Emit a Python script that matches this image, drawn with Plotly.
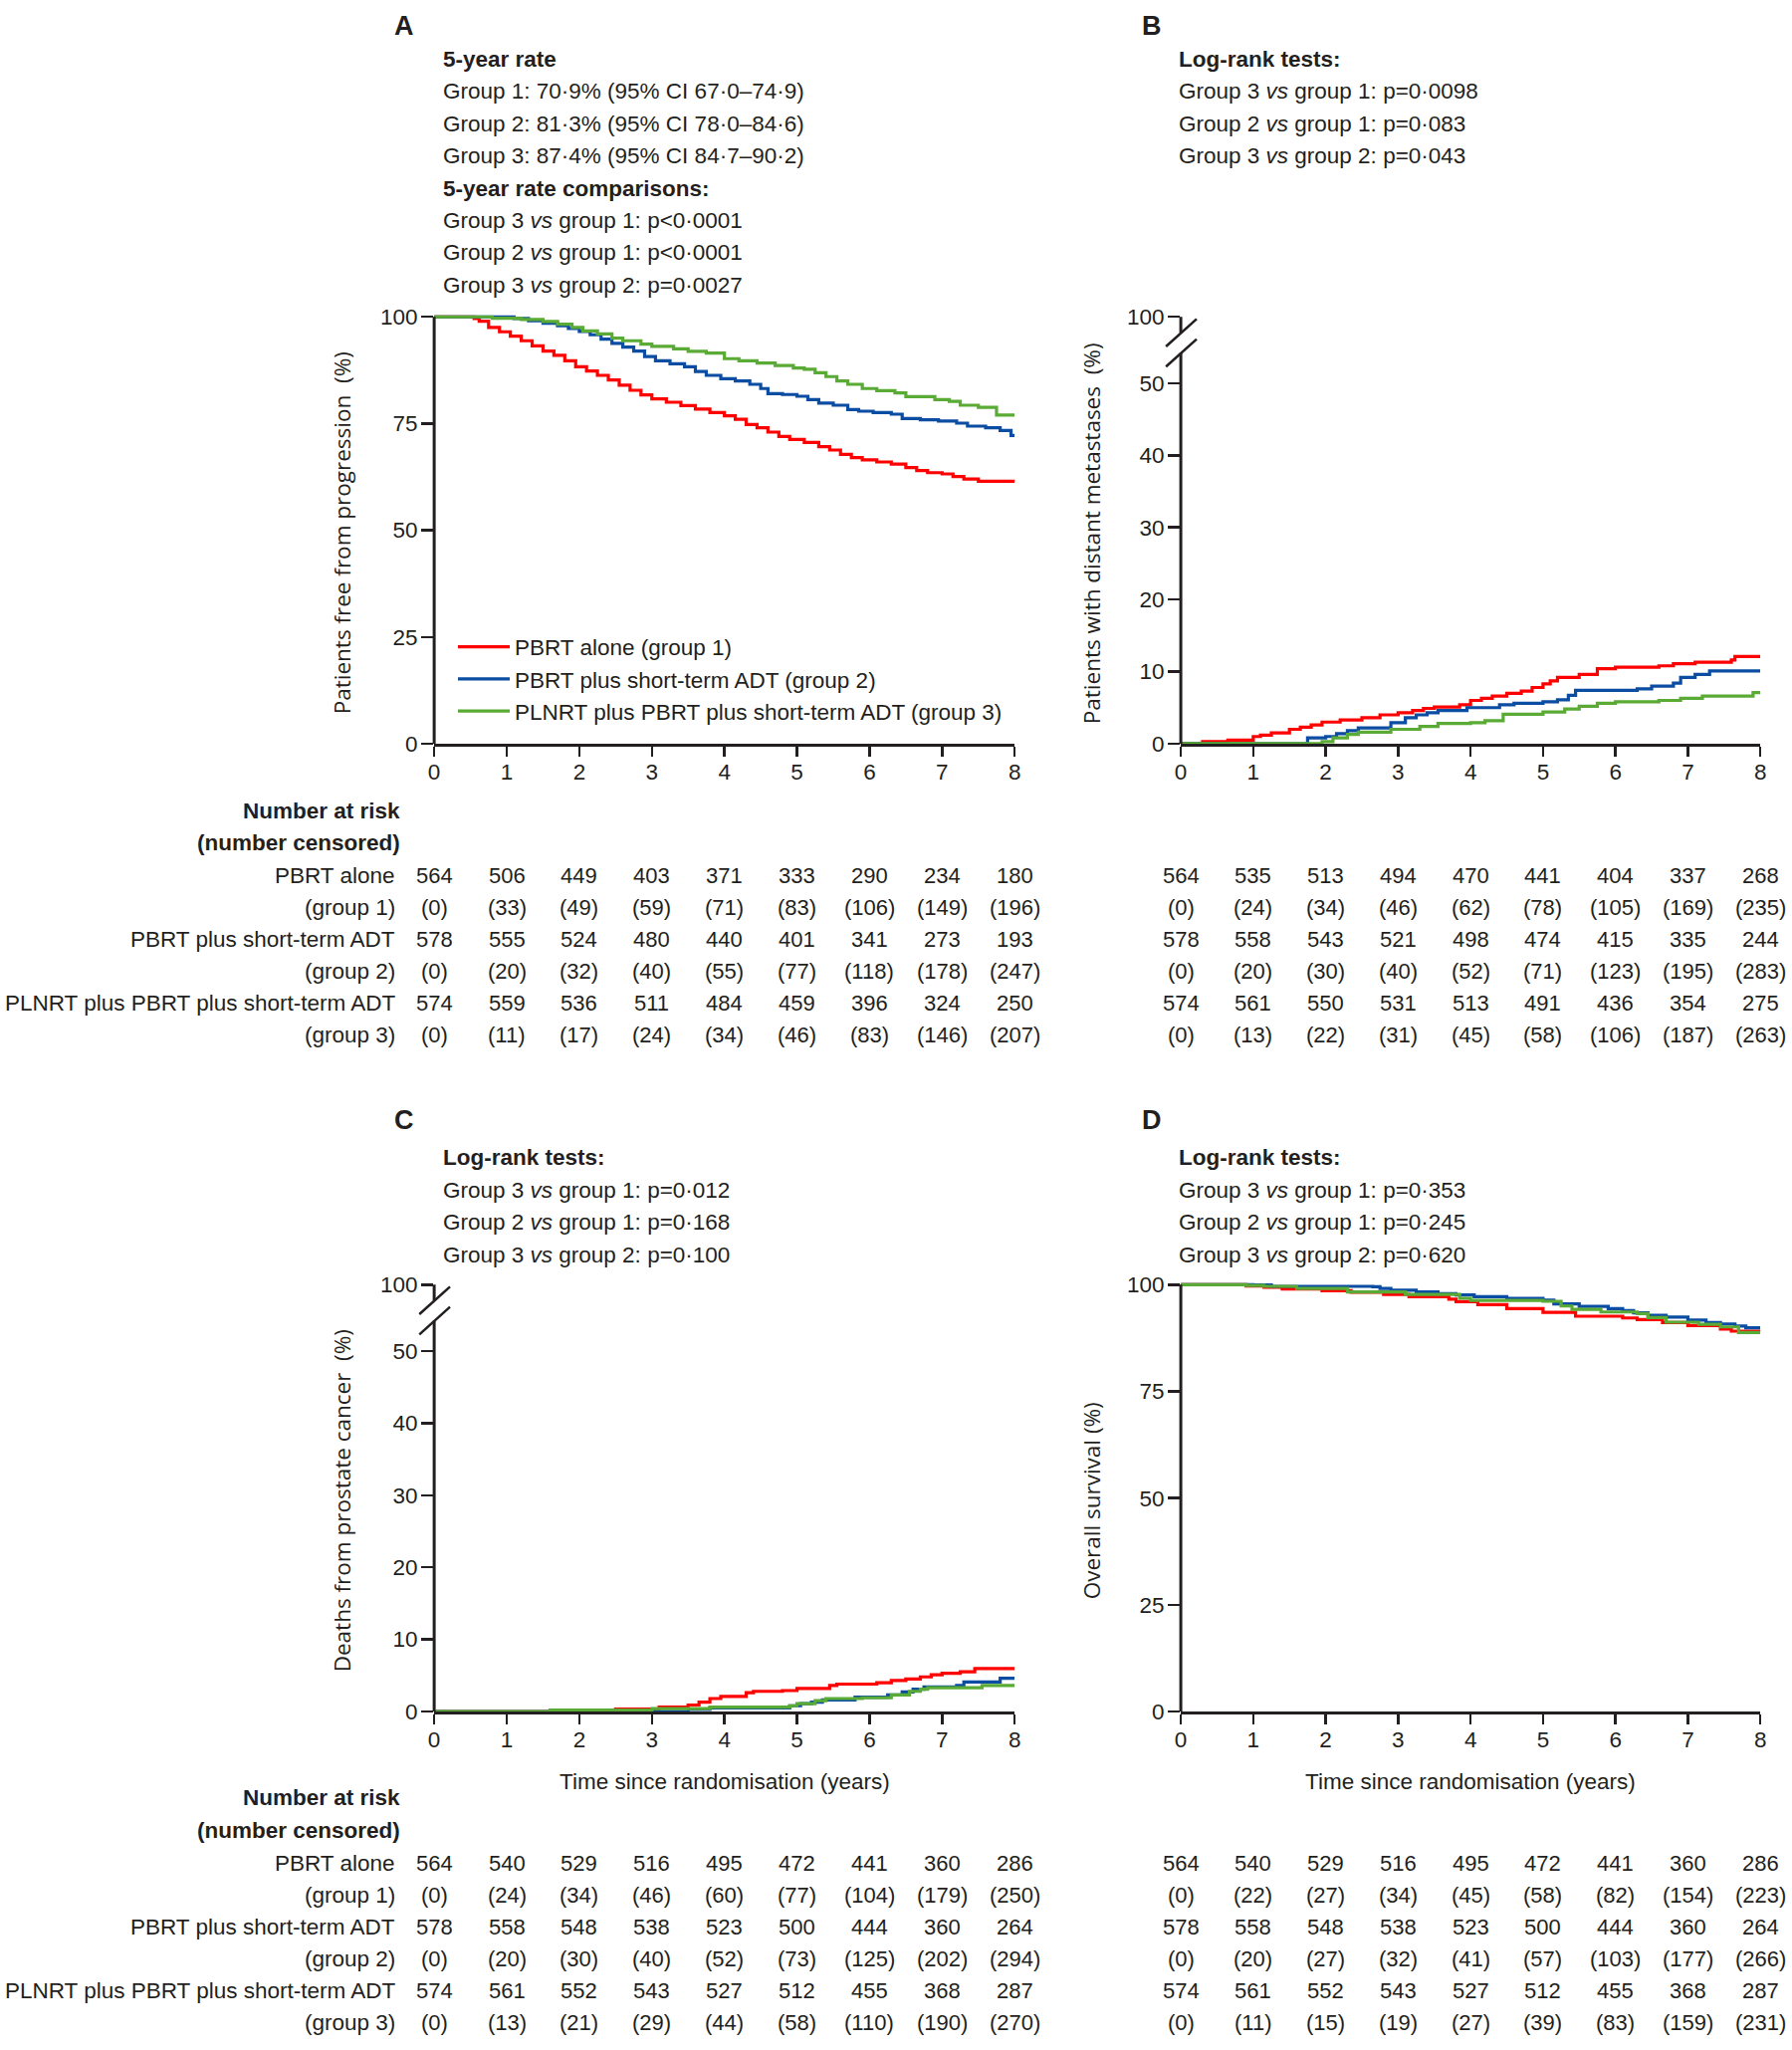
import plotly.graph_objects as go

W, H = 1800, 2059
FONT = "Liberation Sans, Arial, sans-serif"
TFONT = "Open Sans, Liberation Sans, sans-serif"
FS = 22.5
FS_NUM = 22
INK = "#231f20"
COLORS = ["#ff0000", "#0b4da2", "#5aab35"]

YEARS = [0, 1, 2, 3, 4, 5, 6, 7, 8]
LEGEND_NAMES = ["PBRT alone (group 1)", "PBRT plus short-term ADT (group 2)",
                "PLNRT plus PBRT plus short-term ADT (group 3)"]
ROW_LABELS = ["PBRT alone", "(group 1)", "PBRT plus short-term ADT", "(group 2)",
              "PLNRT plus PBRT plus short-term ADT", "(group 3)"]

# ---------------- Panel A: freedom from progression (%) ----------------
A_T1 = [0, 0.55, 0.62, 0.75, 0.9, 1.05, 1.2, 1.35, 1.5, 1.65, 1.8, 1.95, 2.1, 2.25, 2.4, 2.55, 2.7, 2.85, 3.0,
        3.2, 3.4, 3.6, 3.8, 4.0, 4.15, 4.3, 4.45, 4.6, 4.75, 4.9, 5.1, 5.3, 5.45, 5.6, 5.75, 5.9, 6.1, 6.3,
        6.5, 6.65, 6.8, 7.0, 7.15, 7.3, 7.5, 8.0]
A_S1 = [100, 99.6, 99.0, 97.5, 96.5, 95.5, 94.4, 93.2, 92.0, 91.0, 89.7, 88.3, 87.3, 86.3, 85.2, 84.0, 82.8,
        81.7, 80.8, 80.0, 79.2, 78.4, 77.6, 76.8, 76.0, 74.8, 74.0, 73.0, 72.0, 71.3, 70.6, 69.6, 68.8, 67.8,
        67.0, 66.5, 66.0, 65.5, 64.7, 64.0, 63.5, 63.2, 62.6, 62.0, 61.5, 61.3]
A_T2 = [0, 1.1, 1.3, 1.5, 1.7, 1.85, 2.0, 2.15, 2.3, 2.45, 2.6, 2.75, 2.9, 3.05, 3.25, 3.45, 3.6, 3.75, 3.95,
        4.15, 4.35, 4.5, 4.6, 4.8, 5.0, 5.15, 5.3, 5.5, 5.7, 5.85, 6.05, 6.3, 6.45, 6.7, 6.95, 7.2, 7.35,
        7.6, 7.8, 7.95, 8.0]
A_S2 = [100, 99.6, 99.1, 98.5, 97.9, 97.3, 96.6, 95.8, 94.8, 93.8, 92.9, 92.0, 90.7, 89.7, 89.0, 88.3, 87.2,
        86.3, 85.5, 85.0, 84.2, 83.2, 82.0, 81.8, 81.4, 80.6, 79.8, 79.3, 78.3, 77.9, 77.6, 77.2, 76.2,
        75.9, 75.6, 75.1, 74.4, 74.0, 73.4, 72.2, 72.2]
A_T3 = [0, 0.8, 1.2, 1.5, 1.7, 1.9, 2.05, 2.25, 2.45, 2.6, 2.85, 3.0, 3.3, 3.5, 3.75, 4.0, 4.2, 4.45, 4.7,
        4.95, 5.1, 5.25, 5.4, 5.55, 5.7, 5.9, 6.1, 6.35, 6.5, 6.9, 7.1, 7.25, 7.5, 7.75, 8.0]
A_S3 = [100, 99.7, 99.4, 98.9, 98.3, 97.5, 96.7, 96.0, 95.0, 94.4, 93.6, 93.1, 92.5, 91.9, 91.5, 90.2, 89.7,
        89.2, 88.6, 88.0, 87.7, 86.9, 86.0, 85.0, 84.2, 83.2, 82.7, 82.2, 81.3, 80.6, 80.2, 79.3, 78.8,
        77.0, 77.0]

# ---------------- Panel B: distant metastases (%) ----------------
B_T1 = [0, 0.3, 0.65, 1.0, 1.1, 1.25, 1.5, 1.65, 1.8, 1.95, 2.2, 2.5, 2.75, 3.0, 3.2, 3.35, 3.5, 3.85, 4.0,
        4.15, 4.3, 4.5, 4.7, 4.85, 5.0, 5.1, 5.2, 5.5, 5.75, 6.0, 6.6, 6.8, 7.1, 7.6, 7.65, 8.0]
B_S1 = [0, 0.3, 0.5, 1.0, 1.2, 1.5, 2.0, 2.3, 2.6, 3.0, 3.3, 3.6, 4.0, 4.3, 4.6, 4.9, 5.1, 5.4, 6.0, 6.3,
        6.6, 7.0, 7.3, 7.8, 8.3, 8.7, 9.2, 9.6, 10.4, 10.6, 10.8, 11.1, 11.3, 11.6, 12.1, 12.1]
B_T2 = [0, 1.75, 2.0, 2.15, 2.3, 2.45, 2.9, 3.1, 3.25, 3.4, 3.55, 3.95, 4.4, 4.6, 5.0, 5.2, 5.35, 5.45, 6.3,
        6.5, 6.8, 6.9, 7.1, 7.3, 8.0]
B_S2 = [0, 0.8, 1.0, 1.4, 1.8, 2.2, 2.9, 3.6, 4.0, 4.3, 4.6, 5.0, 5.4, 5.6, 5.8, 6.1, 6.7, 7.4, 7.6, 8.0,
        8.4, 9.2, 9.6, 10.1, 10.1]
B_T3 = [0, 1.95, 2.1, 2.3, 2.45, 2.9, 3.3, 3.55, 4.0, 4.2, 4.45, 5.0, 5.3, 5.5, 5.75, 6.0, 6.6, 6.9, 7.2,
        7.9, 8.0]
B_S3 = [0, 0.3, 0.8, 1.3, 1.6, 2.0, 2.4, 2.8, 2.9, 3.2, 4.1, 4.4, 4.8, 5.2, 5.6, 5.8, 6.0, 6.3, 6.6, 7.1, 7.2]

# ---------------- Panel C: deaths from prostate cancer (%) ----------------
C_T1 = [0, 1.6, 2.5, 3.1, 3.5, 3.65, 3.8, 3.95, 4.3, 4.4, 4.8, 5.0, 5.45, 5.55, 6.1, 6.3, 6.5, 6.7, 6.85,
        7.0, 7.25, 7.45, 8.0]
C_S1 = [0, 0.2, 0.35, 0.6, 0.9, 1.3, 1.8, 2.1, 2.6, 2.8, 2.9, 3.2, 3.6, 3.8, 4.0, 4.3, 4.5, 4.8, 5.1, 5.3,
        5.5, 5.95, 5.95]
C_T2 = [0, 3.5, 3.8, 4.9, 5.05, 5.2, 5.35, 5.8, 6.25, 6.45, 6.6, 6.75, 7.2, 7.3, 7.8, 8.0]
C_S2 = [0, 0.3, 0.5, 0.8, 1.1, 1.3, 1.6, 2.0, 2.3, 2.7, 3.1, 3.4, 3.6, 4.1, 4.6, 4.6]
C_T3 = [0, 1.6, 3.0, 3.8, 4.9, 5.0, 5.25, 5.4, 5.9, 6.3, 6.55, 6.7, 6.8, 7.55, 8.0]
C_S3 = [0, 0.2, 0.4, 0.6, 0.8, 1.1, 1.5, 1.8, 1.9, 2.3, 2.8, 3.1, 3.3, 3.6, 3.6]

# ---------------- Panel D: overall survival (%) ----------------
D_T1 = [0, 0.9, 1.15, 1.4, 1.95, 2.35, 2.8, 3.15, 3.7, 3.8, 4.1, 4.5, 5.0, 5.45, 6.1, 6.3, 6.65, 7.0, 7.45,
        7.6, 8.0]
D_S1 = [100, 99.7, 99.4, 99.0, 98.6, 98.2, 97.7, 97.2, 96.6, 96.0, 95.3, 94.4, 93.5, 92.6, 92.2, 91.8, 91.1,
        90.4, 89.6, 89.1, 88.8]
D_T2 = [0, 1.0, 1.25, 2.65, 2.75, 2.9, 3.25, 3.55, 3.8, 4.05, 4.5, 5.0, 5.15, 5.5, 5.9, 6.1, 6.25, 6.45, 6.7,
        7.0, 7.25, 7.45, 7.65, 7.8, 8.0]
D_S2 = [100, 99.9, 99.6, 99.5, 99.1, 98.7, 98.3, 97.9, 97.6, 97.2, 96.8, 96.4, 95.5, 94.9, 94.4, 93.9, 93.4,
        92.8, 92.4, 91.7, 91.1, 90.8, 90.3, 89.9, 89.9]
D_T3 = [0, 0.9, 1.15, 1.6, 2.3, 3.1, 3.85, 4.0, 5.0, 5.25, 5.4, 5.8, 6.3, 6.45, 6.7, 7.15, 7.45, 7.7, 8.0]
D_S3 = [100, 99.8, 99.6, 99.1, 98.3, 97.7, 96.8, 96.3, 96.1, 95.0, 94.2, 93.6, 93.2, 92.3, 91.2, 90.7, 90.1,
        88.8, 88.8]

# ---------------- Numbers at risk (number censored) ----------------
A_N1 = [564, 506, 449, 403, 371, 333, 290, 234, 180]
A_C1 = [0, 33, 49, 59, 71, 83, 106, 149, 196]
A_N2 = [578, 555, 524, 480, 440, 401, 341, 273, 193]
A_C2 = [0, 20, 32, 40, 55, 77, 118, 178, 247]
A_N3 = [574, 559, 536, 511, 484, 459, 396, 324, 250]
A_C3 = [0, 11, 17, 24, 34, 46, 83, 146, 207]

B_N1 = [564, 535, 513, 494, 470, 441, 404, 337, 268]
B_C1 = [0, 24, 34, 46, 62, 78, 105, 169, 235]
B_N2 = [578, 558, 543, 521, 498, 474, 415, 335, 244]
B_C2 = [0, 20, 30, 40, 52, 71, 123, 195, 283]
B_N3 = [574, 561, 550, 531, 513, 491, 436, 354, 275]
B_C3 = [0, 13, 22, 31, 45, 58, 106, 187, 263]

C_N1 = [564, 540, 529, 516, 495, 472, 441, 360, 286]
C_C1 = [0, 24, 34, 46, 60, 77, 104, 179, 250]
C_N2 = [578, 558, 548, 538, 523, 500, 444, 360, 264]
C_C2 = [0, 20, 30, 40, 52, 73, 125, 202, 294]
C_N3 = [574, 561, 552, 543, 527, 512, 455, 368, 287]
C_C3 = [0, 13, 21, 29, 44, 58, 110, 190, 270]

D_N1 = [564, 540, 529, 516, 495, 472, 441, 360, 286]
D_C1 = [0, 22, 27, 34, 45, 58, 82, 154, 223]
D_N2 = [578, 558, 548, 538, 523, 500, 444, 360, 264]
D_C2 = [0, 20, 27, 32, 41, 57, 103, 177, 266]
D_N3 = [574, 561, 552, 543, 527, 512, 455, 368, 287]
D_C3 = [0, 11, 15, 19, 27, 39, 83, 159, 231]

# ---------------- Panel header texts ----------------
A_TEXT = ["<b>5-year rate</b>",
          "Group 1: 70·9% (95% CI 67·0–74·9)",
          "Group 2: 81·3% (95% CI 78·0–84·6)",
          "Group 3: 87·4% (95% CI 84·7–90·2)",
          "<b>5-year rate comparisons:</b>",
          "Group 3 <i>vs</i> group 1: p&lt;0·0001",
          "Group 2 <i>vs</i> group 1: p&lt;0·0001",
          "Group 3 <i>vs</i> group 2: p=0·0027"]
B_TEXT = ["<b>Log-rank tests:</b>",
          "Group 3 <i>vs</i> group 1: p=0·0098",
          "Group 2 <i>vs</i> group 1: p=0·083",
          "Group 3 <i>vs</i> group 2: p=0·043"]
C_TEXT = ["<b>Log-rank tests:</b>",
          "Group 3 <i>vs</i> group 1: p=0·012",
          "Group 2 <i>vs</i> group 1: p=0·168",
          "Group 3 <i>vs</i> group 2: p=0·100"]
D_TEXT = ["<b>Log-rank tests:</b>",
          "Group 3 <i>vs</i> group 1: p=0·353",
          "Group 2 <i>vs</i> group 1: p=0·245",
          "Group 3 <i>vs</i> group 2: p=0·620"]

Y_TITLES = {"A": "Patients free from progression\u00a0 (%)",
            "B": "Patients with distant metastases\u00a0 (%)",
            "C": "Deaths from prostate cancer\u00a0 (%)",
            "D": "Overall survival (%)"}
X_TITLE = "Time since randomisation (years)"

# ---------------- layout geometry (pixels) ----------------
BREAK_TOP = 59.2          # axis units at top of broken axis (labelled 100)
BREAK_LO, BREAK_HI = 54.2, 57.0
HEAD = 1.5                # headroom above 100 for full-scale axes

PANELS = [
    dict(key="A", n="", x0=433, x1=1020, ytop=310, ybot=744, broken=False,
         curves=[(A_T1, A_S1), (A_T2, A_S2), (A_T3, A_S3)],
         risk=[A_N1, A_C1, A_N2, A_C2, A_N3, A_C3], text=A_TEXT, tx=440, ty0=48, lx=403, ly=14,
         ytx=340, xtitle=False),
    dict(key="B", n="2", x0=1188, x1=1774, ytop=310, ybot=744, broken=True,
         curves=[(B_T1, B_S1), (B_T2, B_S2), (B_T3, B_S3)],
         risk=[B_N1, B_C1, B_N2, B_C2, B_N3, B_C3], text=B_TEXT, tx=1184, ty0=48, lx=1159, ly=14,
         ytx=1098, xtitle=False),
    dict(key="C", n="3", x0=433, x1=1020, ytop=1294, ybot=1728, broken=True,
         curves=[(C_T1, C_S1), (C_T2, C_S2), (C_T3, C_S3)],
         risk=[C_N1, C_C1, C_N2, C_C2, C_N3, C_C3], text=C_TEXT, tx=440, ty0=1165, lx=403, ly=1127,
         ytx=340, xtitle=True),
    dict(key="D", n="4", x0=1188, x1=1774, ytop=1294, ybot=1728, broken=False,
         curves=[(D_T1, D_S1), (D_T2, D_S2), (D_T3, D_S3)],
         risk=[D_N1, D_C1, D_N2, D_C2, D_N3, D_C3], text=D_TEXT, tx=1184, ty0=1165, lx=1159, ly=1127,
         ytx=1098, xtitle=True),
]
LINE_STEP = 32.8
RISK_ROWS_TOP = [878, 910.5, 943, 975.5, 1008, 1040.5]
RISK_ROWS_BOT = [1882, 1914.5, 1947, 1979.5, 2012, 2044.5]
RISK_HEAD_TOP = [812, 845]
RISK_HEAD_BOT = [1816, 1849]


def xp(px):
    return px / W


def yp(px):
    return 1 - px / H


fig = go.Figure()
shapes, annotations = [], []
layout = {}

for p in PANELS:
    n = p["n"]
    top_val = BREAK_TOP if p["broken"] else 100 + HEAD
    scale_val = BREAK_TOP if p["broken"] else 100
    unit_px = (p["ybot"] - p["ytop"]) / scale_val
    dom_top = p["ybot"] - unit_px * top_val

    def vpx(v, p=p, unit_px=unit_px):
        return p["ybot"] - v * unit_px

    for j, (t, s) in enumerate(p["curves"]):
        fig.add_trace(go.Scatter(
            x=t, y=s, mode="lines", name=LEGEND_NAMES[j],
            line=dict(color=COLORS[j], width=3.2, shape="hv"),
            xaxis="x" + n, yaxis="y" + n, showlegend=(p["key"] == "A"),
            hoverinfo="skip"))

    tickfont = dict(family=FONT, size=FS, color=INK)
    layout["xaxis" + n] = dict(
        domain=[xp(p["x0"]), xp(p["x1"])], range=[0, 8], anchor="y" + n,
        tickmode="array", tickvals=YEARS, ticktext=[str(y) for y in YEARS],
        ticks="outside", ticklen=10, tickwidth=2.5, tickcolor=INK, ticklabelstandoff=-4,
        showline=True, linecolor=INK, linewidth=3, showgrid=False, zeroline=False,
        tickfont=tickfont, layer="below traces", fixedrange=True)
    if p["broken"]:
        tv = [0, 10, 20, 30, 40, 50, BREAK_TOP]
        tt = ["0", "10", "20", "30", "40", "50", "100"]
    else:
        tv = [0, 25, 50, 75, 100]
        tt = ["0", "25", "50", "75", "100"]
    layout["yaxis" + n] = dict(
        domain=[yp(p["ybot"]), yp(dom_top)], range=[0, top_val], anchor="x" + n,
        tickmode="array", tickvals=tv, ticktext=tt,
        ticks="outside", ticklen=12, tickwidth=2.5, tickcolor=INK, ticklabelstandoff=-1,
        showline=False, showgrid=False, zeroline=False,
        tickfont=tickfont, layer="below traces", fixedrange=True)

    # y-axis line (with break where needed)
    ax_x = xp(p["x0"])
    if p["broken"]:
        segs = [(0, BREAK_LO), (BREAK_HI, BREAK_TOP)]
    else:
        segs = [(0, 100)]
    for a, b in segs:
        shapes.append(dict(type="line", xref="paper", yref="paper", x0=ax_x, x1=ax_x,
                           y0=yp(vpx(a)), y1=yp(vpx(b)), line=dict(color=INK, width=3)))
    if p["broken"]:
        for v in (BREAK_LO, BREAK_HI):
            c = vpx(v)
            shapes.append(dict(type="line", xref="paper", yref="paper",
                               x0=xp(p["x0"] - 15), x1=xp(p["x0"] + 16),
                               y0=yp(c + 14), y1=yp(c - 14), line=dict(color=INK, width=2.5)))

    # panel letter
    annotations.append(dict(text="<b>%s</b>" % p["key"], x=xp(p["lx"]), y=yp(p["ly"]), xref="paper",
                            yref="paper", showarrow=False, xanchor="center", yanchor="middle",
                            font=dict(family=FONT, size=27, color=INK)))
    # header text block
    for k, line in enumerate(p["text"]):
        annotations.append(dict(text=line, x=xp(p["tx"]), y=yp(p["ty0"] + k * LINE_STEP),
                                xref="paper", yref="paper", showarrow=False,
                                xanchor="left", yanchor="middle",
                                font=dict(family=FONT, size=FS, color=INK)))
    # y-axis title
    annotations.append(dict(text=Y_TITLES[p["key"]], x=xp(p["ytx"]),
                            y=yp((p["ytop"] + p["ybot"]) / 2 + 3), xref="paper", yref="paper",
                            showarrow=False, textangle=-90, xanchor="center", yanchor="middle",
                            font=dict(family=TFONT, size=22.5, color=INK)))
    # x-axis title
    if p["xtitle"]:
        annotations.append(dict(text=X_TITLE, x=xp((p["x0"] + p["x1"]) / 2), y=yp(1799),
                                xref="paper", yref="paper", showarrow=False,
                                xanchor="center", yanchor="middle",
                                font=dict(family=FONT, size=FS, color=INK)))
    # numbers at risk
    rows = RISK_ROWS_TOP if p["key"] in ("A", "B") else RISK_ROWS_BOT
    for r, vals in enumerate(p["risk"]):
        for yr, val in zip(YEARS, vals):
            txt = str(val) if r % 2 == 0 else "(%d)" % val
            annotations.append(dict(text=txt, x=yr, y=yp(rows[r]), xref="x" + n, yref="paper",
                                    showarrow=False, xanchor="center", yanchor="middle",
                                    font=dict(family=FONT, size=FS_NUM, color=INK)))
    if p["key"] in ("A", "C"):
        heads = RISK_HEAD_TOP if p["key"] == "A" else RISK_HEAD_BOT
        for txt, yy in zip(["<b>Number at risk</b>", "<b>(number censored)</b>"], heads):
            annotations.append(dict(text=txt, x=xp(401), y=yp(yy), xref="paper", yref="paper",
                                    showarrow=False, xanchor="right", yanchor="middle",
                                    font=dict(family=FONT, size=FS, color=INK)))
        for r, lab in enumerate(ROW_LABELS):
            annotations.append(dict(text=lab, x=xp(396), y=yp(rows[r]), xref="paper", yref="paper",
                                    showarrow=False, xanchor="right", yanchor="middle",
                                    font=dict(family=FONT, size=FS, color=INK)))

layout.update(
    width=W, height=H, margin=dict(l=0, r=0, t=0, b=0),
    paper_bgcolor="white", plot_bgcolor="white",
    shapes=shapes, annotations=annotations,
    legend=dict(x=xp(452), y=yp(624), xanchor="left", yanchor="top",
                font=dict(family=FONT, size=FS, color=INK), itemwidth=52,
                bgcolor="rgba(0,0,0,0)", borderwidth=0, tracegroupgap=0),
    font=dict(family=FONT, color=INK),
)
fig.update_layout(**layout)
fig.write_html("out.html", config={"displayModeBar": False, "staticPlot": True},
               post_script="document.body.style.margin='0';document.body.style.overflow='hidden';")
